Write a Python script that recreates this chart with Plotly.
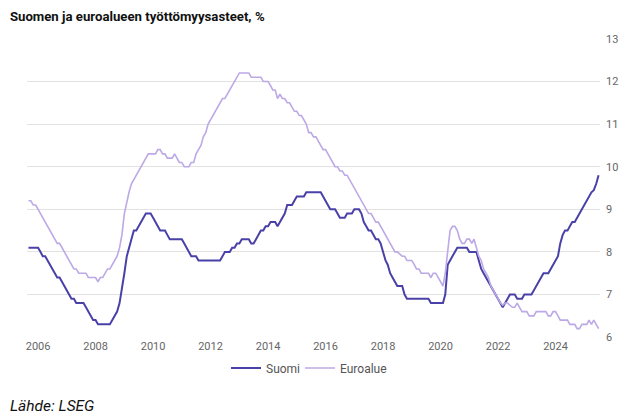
import pandas as pd
import plotly.graph_objects as go

start_month = "2005-09-01"

suomi = [
    8.1, 8.1, 8.1, 8.1,  # 2005 Sep-Dec
    8.1, 8.0, 7.9, 7.9, 7.8, 7.7, 7.6, 7.5, 7.4, 7.4, 7.3, 7.2,  # 2006
    7.1, 7.0, 6.9, 6.9, 6.8, 6.8, 6.8, 6.8, 6.7, 6.6, 6.5, 6.4,  # 2007
    6.4, 6.3, 6.3, 6.3, 6.3, 6.3, 6.3, 6.4, 6.5, 6.6, 6.8, 7.1,  # 2008
    7.5, 7.9, 8.1, 8.3, 8.5, 8.5, 8.6, 8.7, 8.8, 8.9, 8.9, 8.9,  # 2009
    8.8, 8.7, 8.6, 8.5, 8.5, 8.5, 8.4, 8.3, 8.3, 8.3, 8.3, 8.3,  # 2010
    8.3, 8.2, 8.1, 8.0, 7.9, 7.9, 7.9, 7.8, 7.8, 7.8, 7.8, 7.8,  # 2011
    7.8, 7.8, 7.8, 7.8, 7.8, 7.9, 8.0, 8.0, 8.0, 8.1, 8.1, 8.2,  # 2012
    8.2, 8.3, 8.3, 8.3, 8.3, 8.2, 8.2, 8.3, 8.4, 8.5, 8.5, 8.6,  # 2013
    8.6, 8.7, 8.7, 8.7, 8.6, 8.7, 8.8, 8.9, 9.1, 9.1, 9.1, 9.2,  # 2014
    9.3, 9.3, 9.3, 9.3, 9.4, 9.4, 9.4, 9.4, 9.4, 9.4, 9.4, 9.3,  # 2015
    9.2, 9.1, 9.0, 9.0, 9.0, 8.9, 8.8, 8.8, 8.8, 8.9, 8.9, 8.9,  # 2016
    9.0, 9.0, 9.0, 8.9, 8.7, 8.6, 8.5, 8.5, 8.4, 8.3, 8.3, 8.2,  # 2017
    8.0, 7.8, 7.7, 7.5, 7.4, 7.3, 7.2, 7.2, 7.2, 7.0, 6.9, 6.9,  # 2018
    6.9, 6.9, 6.9, 6.9, 6.9, 6.9, 6.9, 6.9, 6.8, 6.8, 6.8, 6.8,  # 2019
    6.8, 6.8, 7.0, 7.7, 7.8, 7.9, 8.0, 8.1, 8.1, 8.1, 8.1, 8.1,  # 2020
    8.0, 8.0, 8.0, 8.0, 7.8, 7.6, 7.5, 7.4, 7.3, 7.2, 7.1, 7.0,  # 2021
    6.9, 6.8, 6.7, 6.8, 6.9, 7.0, 7.0, 7.0, 6.9, 6.9, 6.9, 7.0,  # 2022
    7.0, 7.0, 7.0, 7.1, 7.2, 7.3, 7.4, 7.5, 7.5, 7.5, 7.6, 7.7,  # 2023
    7.8, 7.9, 8.2, 8.4, 8.5, 8.5, 8.6, 8.7, 8.7, 8.8, 8.9, 9.0,  # 2024
    9.1, 9.2, 9.3, 9.4, 9.45, 9.6, 9.8,  # 2025 Jan-Jul
]

euroalue = [
    9.2, 9.2, 9.1, 9.1,  # 2005 Sep-Dec
    9.0, 8.9, 8.8, 8.7, 8.6, 8.5, 8.4, 8.3, 8.2, 8.2, 8.1, 8.0,  # 2006
    7.9, 7.8, 7.7, 7.6, 7.6, 7.5, 7.5, 7.5, 7.5, 7.4, 7.4, 7.4,  # 2007
    7.4, 7.3, 7.4, 7.4, 7.5, 7.6, 7.6, 7.7, 7.8, 7.9, 8.1, 8.4,  # 2008
    8.9, 9.2, 9.4, 9.6, 9.7, 9.8, 9.9, 10.0, 10.1, 10.2, 10.3, 10.3,  # 2009
    10.3, 10.3, 10.4, 10.4, 10.3, 10.3, 10.2, 10.2, 10.2, 10.3, 10.2, 10.1,  # 2010
    10.1, 10.0, 10.0, 10.0, 10.1, 10.1, 10.3, 10.4, 10.5, 10.7, 10.8, 11.0,  # 2011
    11.1, 11.2, 11.3, 11.4, 11.5, 11.6, 11.6, 11.7, 11.8, 11.9, 12.0, 12.1,  # 2012
    12.2, 12.2, 12.2, 12.2, 12.2, 12.1, 12.1, 12.1, 12.1, 12.1, 12.0, 12.0,  # 2013
    12.0, 11.9, 11.8, 11.8, 11.6, 11.7, 11.6, 11.6, 11.5, 11.5, 11.4, 11.3,  # 2014
    11.3, 11.2, 11.2, 11.1, 11.0, 10.8, 10.8, 10.7, 10.7, 10.6, 10.5, 10.4,  # 2015
    10.4, 10.3, 10.2, 10.1, 10.0, 10.0, 9.9, 9.9, 9.8, 9.8, 9.7, 9.6,  # 2016
    9.5, 9.4, 9.3, 9.2, 9.1, 9.0, 8.9, 8.9, 8.8, 8.7, 8.7, 8.6,  # 2017
    8.5, 8.4, 8.3, 8.2, 8.1, 8.0, 8.0, 7.95, 7.9, 7.9, 7.8, 7.8,  # 2018
    7.8, 7.7, 7.6, 7.6, 7.5, 7.5, 7.5, 7.5, 7.4, 7.5, 7.5, 7.4,  # 2019
    7.3, 7.2, 7.5, 8.1, 8.5, 8.6, 8.6, 8.5, 8.3, 8.2, 8.2, 8.3,  # 2020
    8.3, 8.2, 8.3, 8.1, 7.9, 7.8, 7.6, 7.5, 7.4, 7.2, 7.1, 7.0,  # 2021
    6.9, 6.8, 6.75, 6.8, 6.8, 6.75, 6.7, 6.7, 6.8, 6.7, 6.6, 6.6,  # 2022
    6.6, 6.5, 6.5, 6.5, 6.6, 6.6, 6.6, 6.6, 6.6, 6.5, 6.5, 6.6,  # 2023
    6.6, 6.5, 6.4, 6.4, 6.4, 6.4, 6.3, 6.3, 6.3, 6.2, 6.2, 6.3,  # 2024
    6.3, 6.3, 6.4, 6.3, 6.4, 6.3, 6.2,  # 2025 Jan-Jul
]

series_names = ["Suomi", "Euroalue"]
y_ticks = [6, 7, 8, 9, 10, 11, 12, 13]
x_tick_years = list(range(2006, 2026, 2))
title_text = "Suomen ja euroalueen työttömyysasteet, %"
source_text = "Lähde: LSEG"

dates_s = pd.date_range(start_month, periods=len(suomi), freq="MS")
dates_e = pd.date_range(start_month, periods=len(euroalue), freq="MS")

# page body has an 8px margin, so the figure is 8px smaller and offset
W, H = 630, 412
OFF = 8
pl, pr, pt, pb = 27 - OFF, 600 - OFF, 38 - OFF, 338 - OFF
pw, ph = pr - pl, pb - pt

def px_x(x):
    return (x - OFF - pl) / pw

def px_y(y):
    return (pb - (y - OFF)) / ph

fig = go.Figure()
fig.add_trace(go.Scatter(x=dates_s, y=suomi, mode="lines", name=series_names[0],
                         line=dict(color="#4a41a8", width=2), legend="legend"))
fig.add_trace(go.Scatter(x=dates_e, y=euroalue, mode="lines", name=series_names[1],
                         line=dict(color="#bca9e6", width=1.6), legend="legend2"))

legend_common = dict(orientation="h", xanchor="left", y=px_y(368), yanchor="middle",
                     font=dict(size=12, color="#555555"), bgcolor="rgba(0,0,0,0)")

fig.update_layout(
    width=W, height=H,
    margin=dict(l=pl, r=W - pr, t=pt, b=H - pb),
    paper_bgcolor="white", plot_bgcolor="white",
    font=dict(family="Roboto", color="#555555", size=11),
    title=dict(text=f"<b>{title_text}</b>", xref="container", x=(8 - OFF) / W + 0.003,
               xanchor="left", yref="container", y=1 - (16 - OFF) / H, yanchor="middle",
               font=dict(family="Roboto", size=13.2, color="#111111")),
    showlegend=True,
    legend=dict(x=px_x(226), **legend_common),
    legend2=dict(x=px_x(300), **legend_common),
    xaxis=dict(
        range=["2005-08-13", "2025-07-19"],
        tickvals=[f"{y}-01-01" for y in x_tick_years],
        ticktext=[str(y) for y in x_tick_years],
        showgrid=False, zeroline=False, showline=False, ticks="",
        tickfont=dict(size=11, color="#666666"),
    ),
    yaxis=dict(
        side="right", range=[5.98, 13.02], tickvals=y_ticks,
        ticktext=[str(v) for v in y_ticks],
        showgrid=True, gridcolor="#e2e2e2", gridwidth=1, zeroline=False,
        showline=False, ticks="", ticklabelstandoff=5,
        tickfont=dict(size=11, color="#666666"),
    ),
    annotations=[dict(text=f"<i>{source_text}</i>", xref="paper", yref="paper",
                      x=px_x(8), y=px_y(406), xanchor="left", yanchor="middle",
                      showarrow=False, font=dict(family="Roboto", size=15.5, color="#111111"))],
)

fig.write_html("out.html")
